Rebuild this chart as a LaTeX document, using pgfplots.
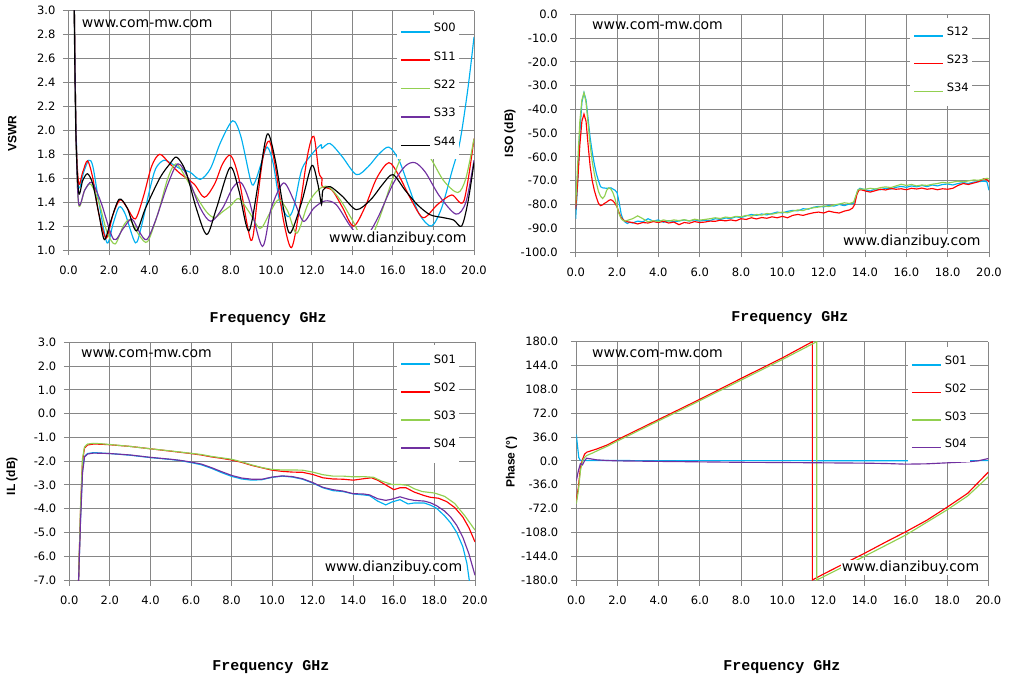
\documentclass[border=0pt]{standalone}
\usepackage{fontspec}
\setmainfont{DejaVu Sans}
\newfontfamily\labfont{Liberation Sans}
\newfontfamily\xfont{Liberation Mono}
\usepackage{pgfplots}
\pgfplotsset{compat=1.18}
\definecolor{cA}{RGB}{0,176,240}
\definecolor{cB}{RGB}{255,0,0}
\definecolor{cC}{RGB}{146,208,80}
\definecolor{cD}{RGB}{112,48,160}
\definecolor{gridc}{RGB}{134,134,134}
\tikzset{wm/.style={font=\fontsize{14}{16}\selectfont, inner sep=1pt}}
\newcommand{\xl}{\xfont\bfseries\fontsize{15}{16}\selectfont Frequency GHz}
\newcommand{\yl}[1]{\labfont\bfseries\fontsize{12}{14}\selectfont #1}
\pgfplotsset{
 mystyle/.style={
  scale only axis,
  xmin=0,xmax=20,
  xtick={0,2,...,20},
  xticklabels={0.0,2.0,4.0,6.0,8.0,10.0,12.0,14.0,16.0,18.0,20.0},
  grid=major,
  major grid style={draw=gridc, line width=0.9pt},
  axis line style={draw=gridc, line width=0.9pt},
  axis x line*=bottom, axis y line*=left,
  tick align=outside,
  tick style={draw=gridc, line width=0.9pt},
  major tick length=5.5pt,
  tick label style={font=\fontsize{11.5}{13}\selectfont, text=black},
  yticklabel style={xshift=-4pt},
  xticklabel style={yshift=-7pt},
  legend style={draw=none, fill=white, anchor=north west, inner xsep=3pt, inner ysep=4pt,
    row sep=12pt, column sep=3pt, font=\fontsize{11.5}{13}\selectfont,
    nodes={inner sep=0pt, text height=7.5pt, text depth=4pt, anchor=base west}},
  legend cell align=left,
  legend image code/.code={\draw[##1, line width=1.6pt] (0pt,0pt) -- (29pt,0pt);},
  every axis plot/.append style={line width=1.15pt, mark=none},
  xlabel={\xl},
 },
}
\begin{document}
\begin{tikzpicture}
\path[use as bounding box] (0,0) rectangle (1009pt,-684pt);
% ---------------- VSWR -----------------
\begin{axis}[mystyle, at={(68.5pt,-10.7pt)}, anchor=north west, width=405.5pt, height=239.3pt,
  ymin=1, ymax=3, ytick={1,1.2,...,3.01},
  yticklabels={1.0,1.2,1.4,1.6,1.8,2.0,2.2,2.4,2.6,2.8,3.0},
  ylabel={\yl{VSWR}},
  every axis y label/.style={at={(axis description cs:-0.139,0.485)}, anchor=center, rotate=90},
  every axis x label/.style={at={(axis description cs:0.492,-0.288)}, anchor=center},
  legend style={at={(0.81,0.983)}, row sep=16.9pt, inner ysep=9.3pt},
  legend entries={S00,S11,S22,S33,S44}]
\addplot[cA, smooth] coordinates {(0.27,3.3)(0.35,2.2)(0.45,1.6)(0.55,1.52)(0.75,1.65)(1.0,1.75)(1.2,1.7)(1.5,1.4)(1.9,1.06)(2.2,1.22)(2.5,1.36)(2.8,1.3)(3.3,1.06)(3.6,1.2)(4.0,1.5)(4.3,1.68)(4.7,1.75)(5.1,1.72)(5.5,1.68)(6.0,1.65)(6.5,1.59)(7.0,1.68)(7.5,1.9)(8.1,2.08)(8.5,1.95)(9.0,1.57)(9.2,1.57)(9.5,1.72)(9.8,1.86)(10.1,1.72)(10.4,1.42)(10.8,1.28)(11.1,1.35)(11.5,1.67)(12.0,1.8)(12.45,1.88)(12.5,1.85)(12.9,1.89)(13.5,1.78)(14.2,1.63)(14.8,1.7)(15.3,1.8)(15.8,1.86)(16.3,1.75)(16.8,1.52)(17.3,1.3)(17.9,1.2)(18.4,1.35)(18.9,1.65)(19.3,1.9)(19.7,2.35)(20,2.78)};
\addplot[cB, smooth] coordinates {(0.27,3.3)(0.37,2.0)(0.5,1.56)(0.7,1.65)(0.94,1.745)(1.2,1.6)(1.5,1.3)(1.86,1.1)(2.2,1.3)(2.55,1.42)(2.9,1.35)(3.3,1.26)(3.7,1.45)(4.1,1.7)(4.5,1.8)(5.0,1.72)(5.5,1.64)(6.2,1.55)(6.7,1.44)(7.2,1.55)(7.6,1.72)(8.0,1.79)(8.4,1.6)(9.0,1.08)(9.3,1.4)(9.6,1.78)(9.9,1.91)(10.2,1.7)(10.6,1.25)(11.0,1.02)(11.4,1.35)(11.8,1.8)(12.1,1.95)(12.35,1.65)(12.5,1.6)(12.52,1.53)(13.0,1.5)(13.5,1.36)(14.05,1.2)(14.6,1.35)(15.2,1.6)(15.8,1.73)(16.3,1.62)(16.9,1.42)(17.5,1.27)(18.2,1.38)(18.9,1.46)(19.5,1.41)(20.0,1.93)};
\addplot[cC, smooth] coordinates {(0.27,3.3)(0.37,2.0)(0.5,1.38)(0.8,1.5)(1.1,1.55)(1.5,1.4)(1.9,1.15)(2.3,1.05)(2.7,1.2)(3.04,1.25)(3.5,1.12)(3.9,1.07)(4.4,1.3)(4.9,1.6)(5.3,1.72)(5.8,1.6)(6.3,1.45)(6.8,1.32)(7.2,1.27)(7.6,1.32)(8.0,1.37)(8.4,1.43)(8.9,1.32)(9.45,1.18)(9.9,1.3)(10.35,1.42)(10.8,1.33)(11.26,1.14)(11.8,1.38)(12.3,1.5)(12.8,1.53)(13.4,1.42)(14.0,1.25)(14.7,1.05)(15.3,1.25)(15.9,1.55)(16.5,1.8)(17.2,1.84)(17.8,1.78)(18.5,1.58)(19.2,1.48)(19.6,1.6)(20,1.93)};
\addplot[cD, smooth] coordinates {(0.27,3.3)(0.37,2.0)(0.5,1.39)(0.8,1.5)(1.15,1.565)(1.6,1.4)(2.22,1.09)(2.7,1.18)(3.12,1.26)(3.5,1.15)(3.86,1.087)(4.3,1.25)(4.9,1.55)(5.4,1.72)(5.9,1.6)(6.5,1.35)(7.02,1.24)(7.6,1.35)(8.1,1.52)(8.5,1.565)(8.9,1.42)(9.56,1.03)(10.0,1.35)(10.6,1.56)(11.1,1.42)(11.59,1.24)(12.1,1.35)(12.65,1.41)(13.2,1.38)(13.9,1.2)(14.54,1.09)(15.2,1.25)(16.0,1.55)(16.6,1.7)(17.09,1.73)(17.6,1.65)(18.3,1.45)(19.11,1.30)(19.6,1.4)(20,1.75)};
\addplot[black, smooth] coordinates {(0.26,3.3)(0.36,2.0)(0.5,1.48)(0.7,1.58)(0.94,1.637)(1.2,1.55)(1.5,1.3)(1.77,1.087)(2.1,1.25)(2.5,1.425)(2.9,1.35)(3.34,1.16)(3.8,1.35)(4.5,1.6)(5.0,1.72)(5.34,1.776)(5.8,1.65)(6.3,1.35)(6.82,1.13)(7.3,1.35)(7.97,1.69)(8.4,1.5)(8.9,1.16)(9.4,1.6)(9.81,1.97)(10.2,1.75)(10.6,1.35)(10.93,1.14)(11.5,1.4)(12.0,1.706)(12.3,1.55)(12.48,1.38)(12.55,1.5)(12.9,1.53)(13.5,1.45)(14.2,1.337)(14.9,1.42)(15.5,1.55)(16.0,1.63)(16.6,1.5)(17.2,1.38)(17.83,1.295)(18.5,1.27)(19.0,1.25)(19.39,1.2)(19.7,1.4)(20,1.73)};
\node[wm] at (axis description cs:0.194,0.947) {www.com-mw.com};
\node[wm, fill=white] at (axis description cs:0.812,0.049) {www.dianzibuy.com};
\end{axis}
% ---------------- ISO -----------------
\begin{axis}[mystyle, at={(575.7pt,-14.3pt)}, anchor=north west, width=413.3pt, height=237.7pt,
  ymin=-100, ymax=0, ytick={-100,-90,...,0},
  yticklabels={-100.0,-90.0,-80.0,-70.0,-60.0,-50.0,-40.0,-30.0,-20.0,-10.0,0.0},
  yticklabel style={xshift=-5pt},
  ylabel={\yl{ISO (dB)}},
  every axis y label/.style={at={(axis description cs:-0.159,0.5)}, anchor=center, rotate=90},
  every axis x label/.style={at={(axis description cs:0.518,-0.278)}, anchor=center},
  legend style={at={(0.809,0.987)}, row sep=16.4pt, inner ysep=10.7pt},
  legend entries={S12,S23,S34}]
\addplot[cA] coordinates {(0,-86)(0.1,-70)(0.2,-50)(0.3,-37)(0.4,-33)(0.5,-36)(0.6,-44)(0.7,-52)(0.8,-58)(0.9,-63)(1.0,-67)(1.1,-70)(1.2,-72.5)(1.3,-73)(1.5,-73.2)(1.7,-73)(1.8,-73.5)(1.9,-74)(2.0,-75)(2.1,-79)(2.2,-84)(2.3,-86.5)(2.4,-87.5)(2.5,-88)(2.6,-87.5)(2.75,-87.8)(3.0,-87)(3.25,-87.3)(3.5,-86)(3.75,-87)(4.0,-86.5)(4.25,-87.5)(4.5,-86.8)(4.75,-87.2)(5.0,-87)(5.25,-86.5)(5.5,-87)(5.75,-86.5)(6.0,-87)(6.25,-86.6)(6.5,-86.8)(6.75,-86)(7.0,-86.3)(7.25,-85.7)(7.5,-85.9)(7.75,-85.2)(8.0,-85.5)(8.25,-84.8)(8.5,-84.2)(8.75,-84.6)(9.0,-84)(9.25,-84.4)(9.5,-83.8)(9.75,-83.2)(10.0,-83.6)(10.25,-82.9)(10.5,-82.5)(10.75,-82.7)(11.0,-81.8)(11.25,-82)(11.5,-81.2)(11.75,-80.8)(12.0,-81)(12.25,-80.4)(12.5,-80.7)(12.75,-80)(13.0,-80.5)(13.25,-79.8)(13.45,-79.5)(13.55,-77)(13.65,-74)(13.75,-73.2)(14.0,-73.8)(14.25,-74.3)(14.5,-73.5)(14.75,-73.8)(15.0,-73.2)(15.25,-73.5)(15.5,-72.8)(15.75,-72.4)(16.0,-72.8)(16.25,-72.2)(16.5,-72.6)(16.75,-72)(17.0,-72.5)(17.25,-71.8)(17.5,-72.2)(17.75,-71.6)(18.0,-71.4)(18.25,-71.8)(18.5,-71.2)(18.75,-70.8)(19.0,-71.2)(19.25,-70.6)(19.5,-70.4)(19.75,-70.2)(19.9,-70.5)(20.0,-74)};
\addplot[cB] coordinates {(0,-82)(0.1,-70)(0.2,-55)(0.3,-45)(0.4,-42)(0.5,-45)(0.6,-55)(0.7,-64)(0.8,-70)(0.9,-74)(1.0,-77)(1.1,-79.5)(1.2,-80.5)(1.3,-80.2)(1.4,-79.5)(1.5,-79)(1.6,-78.3)(1.7,-78)(1.8,-78.5)(1.9,-79.5)(2.0,-81)(2.1,-83.5)(2.2,-85.5)(2.3,-86.5)(2.4,-87)(2.5,-87.3)(2.75,-87.6)(3.0,-88.2)(3.25,-87.6)(3.5,-87.8)(3.75,-87.2)(4.0,-87.6)(4.25,-87.1)(4.5,-87.8)(4.75,-87.4)(5.0,-88.5)(5.25,-87.6)(5.5,-87.9)(5.75,-87.2)(6.0,-87.6)(6.25,-87.4)(6.5,-87.0)(6.75,-87.1)(7.0,-86.6)(7.25,-86.9)(7.5,-86.5)(7.75,-86.9)(8.0,-86)(8.25,-86.3)(8.5,-85.6)(8.75,-86.1)(9.0,-85.5)(9.25,-85.8)(9.5,-85.2)(9.75,-85.6)(10.0,-85)(10.25,-85.6)(10.5,-84.6)(10.75,-84.2)(11.0,-84.6)(11.25,-84)(11.5,-83.5)(11.75,-83.2)(12.0,-83.6)(12.25,-82.8)(12.5,-83.3)(12.75,-83.6)(13.0,-82.8)(13.25,-82.3)(13.4,-81.5)(13.5,-80)(13.6,-76)(13.7,-74)(13.8,-73.8)(14.0,-74.3)(14.25,-74.8)(14.5,-74.2)(14.75,-73.6)(15.0,-73.9)(15.25,-73.3)(15.5,-73.6)(15.75,-73.4)(16.0,-73.8)(16.25,-73.2)(16.5,-73.5)(16.75,-73.1)(17.0,-73.6)(17.25,-73.3)(17.5,-73.8)(17.75,-73.4)(18.0,-73.6)(18.25,-73.2)(18.5,-72)(18.75,-71.2)(19.0,-71.6)(19.25,-71)(19.5,-70.4)(19.75,-69.2)(19.9,-69.6)(20.0,-70.5)};
\addplot[cC] coordinates {(0,-80)(0.1,-62)(0.2,-45)(0.3,-36)(0.4,-33)(0.5,-37)(0.6,-46)(0.7,-55)(0.8,-62)(0.9,-67)(1.0,-71)(1.1,-74.5)(1.2,-76.5)(1.3,-77.5)(1.4,-76.5)(1.5,-74)(1.6,-73)(1.7,-73.5)(1.8,-75)(1.9,-77.5)(2.0,-81)(2.1,-84)(2.2,-86)(2.3,-86.8)(2.4,-87)(2.5,-86.7)(2.75,-86)(3.0,-84.8)(3.25,-86)(3.5,-87.3)(3.75,-86.8)(4.0,-87.2)(4.25,-86.5)(4.5,-87)(4.75,-86.5)(5.0,-86.8)(5.25,-86.4)(5.5,-86.9)(5.75,-86.2)(6.0,-86.6)(6.25,-86.3)(6.5,-86)(6.75,-85.6)(7.0,-85.9)(7.25,-85.3)(7.5,-85.6)(7.75,-85)(8.0,-85.2)(8.25,-84.6)(8.5,-84.9)(8.75,-84.2)(9.0,-84.5)(9.25,-83.8)(9.5,-84.1)(9.75,-83.6)(10.0,-83.2)(10.25,-83.5)(10.5,-82.8)(10.75,-82.3)(11.0,-82.6)(11.25,-81.8)(11.5,-81.4)(11.75,-81.1)(12.0,-80.6)(12.25,-80.9)(12.5,-80.2)(12.75,-79.8)(13.0,-79.3)(13.25,-79.6)(13.45,-79)(13.55,-76.5)(13.65,-74)(13.75,-73.5)(14.0,-73.6)(14.25,-73.2)(14.5,-73.5)(14.75,-72.9)(15.0,-72.6)(15.25,-72.9)(15.5,-72.2)(15.75,-71.5)(16.0,-72)(16.25,-71.6)(16.5,-72.2)(16.75,-71.8)(17.0,-72)(17.25,-71.5)(17.5,-71.2)(17.75,-70.7)(18.0,-71)(18.25,-70.6)(18.5,-70.2)(18.75,-70.5)(19.0,-70.1)(19.25,-69.7)(19.5,-69.8)(19.75,-69.3)(19.9,-69)(20.0,-69.3)};
\node[wm] at (axis description cs:0.198,0.951) {www.com-mw.com};
\node[wm, fill=white] at (axis description cs:0.813,0.043) {www.dianzibuy.com};
\end{axis}
% ---------------- IL -----------------
\begin{axis}[mystyle, at={(69.3pt,-342.3pt)}, anchor=north west, width=405.7pt, height=237.7pt,
  ymin=-7, ymax=3, ytick={-7,-6,...,3},
  yticklabels={-7.0,-6.0,-5.0,-4.0,-3.0,-2.0,-1.0,0.0,1.0,2.0,3.0},
  ylabel={\yl{IL (dB)}},
  every axis y label/.style={at={(axis description cs:-0.141,0.437)}, anchor=center, rotate=90},
  every axis x label/.style={at={(axis description cs:0.497,-0.366)}, anchor=center},
  legend style={at={(0.808,0.989)}, row sep=16.5pt, inner ysep=11.3pt},
  legend entries={S01,S02,S03,S04}]
\addplot[cA] coordinates {(0.45,-7.2)(0.55,-4.5)(0.65,-2.4)(0.75,-1.8)(0.9,-1.68)(1.2,-1.64)(1.6,-1.66)(2.0,-1.68)(3.0,-1.75)(4.0,-1.85)(5.0,-1.93)(5.5,-1.98)(6.0,-2.06)(6.5,-2.15)(7.0,-2.3)(7.5,-2.48)(8.0,-2.64)(8.5,-2.75)(9.0,-2.8)(9.5,-2.78)(10.0,-2.68)(10.5,-2.63)(11.0,-2.67)(11.5,-2.76)(12.0,-2.92)(12.5,-3.12)(13.0,-3.24)(13.5,-3.28)(14.0,-3.38)(14.5,-3.42)(14.8,-3.45)(15.2,-3.68)(15.6,-3.84)(15.9,-3.72)(16.3,-3.62)(16.7,-3.8)(17.0,-3.76)(17.5,-3.76)(17.8,-3.85)(18.1,-3.98)(18.5,-4.3)(18.8,-4.6)(19.1,-5.0)(19.4,-5.6)(19.6,-6.3)(19.75,-7.2)};
\addplot[cB] coordinates {(0.45,-7.2)(0.55,-4.2)(0.65,-2.0)(0.75,-1.45)(0.9,-1.32)(1.2,-1.28)(1.6,-1.29)(2.0,-1.31)(3.0,-1.38)(4.0,-1.48)(5.0,-1.58)(6.0,-1.68)(6.5,-1.74)(7.0,-1.82)(7.5,-1.88)(8.0,-1.95)(8.5,-2.05)(9.0,-2.18)(9.5,-2.28)(10.0,-2.38)(10.5,-2.43)(11.0,-2.46)(11.5,-2.47)(12.0,-2.56)(12.5,-2.7)(13.0,-2.75)(13.5,-2.76)(14.0,-2.8)(14.5,-2.74)(14.9,-2.7)(15.2,-2.8)(15.6,-3.0)(16.0,-3.2)(16.3,-3.12)(16.6,-3.12)(17.0,-3.3)(17.5,-3.45)(17.8,-3.52)(18.2,-3.56)(18.6,-3.7)(19.0,-3.95)(19.4,-4.35)(19.7,-4.8)(20.0,-5.4)};
\addplot[cC] coordinates {(0.45,-7.2)(0.55,-4.0)(0.65,-1.9)(0.75,-1.4)(0.9,-1.28)(1.2,-1.25)(1.6,-1.27)(2.0,-1.3)(3.0,-1.38)(4.0,-1.48)(5.0,-1.57)(6.0,-1.67)(6.5,-1.72)(7.0,-1.8)(7.5,-1.86)(8.0,-1.92)(8.5,-2.03)(9.0,-2.16)(9.5,-2.27)(10.0,-2.35)(10.5,-2.37)(11.0,-2.37)(11.5,-2.38)(12.0,-2.46)(12.5,-2.57)(13.0,-2.63)(13.5,-2.63)(14.0,-2.66)(14.5,-2.65)(15.0,-2.68)(15.4,-2.84)(15.9,-2.98)(16.3,-2.98)(16.7,-3.02)(17.0,-3.16)(17.4,-3.28)(18.0,-3.34)(18.5,-3.48)(19.0,-3.78)(19.5,-4.3)(20.0,-4.9)};
\addplot[cD] coordinates {(0.45,-7.2)(0.55,-4.6)(0.65,-2.5)(0.75,-1.82)(0.9,-1.7)(1.2,-1.66)(1.6,-1.67)(2.0,-1.68)(3.0,-1.74)(4.0,-1.84)(5.0,-1.92)(5.5,-1.97)(6.0,-2.04)(6.5,-2.12)(7.0,-2.27)(7.5,-2.44)(8.0,-2.6)(8.5,-2.71)(9.0,-2.76)(9.5,-2.76)(10.0,-2.67)(10.5,-2.62)(11.0,-2.65)(11.5,-2.74)(12.0,-2.9)(12.5,-3.1)(13.0,-3.2)(13.5,-3.26)(14.0,-3.37)(14.5,-3.38)(14.8,-3.42)(15.2,-3.58)(15.6,-3.65)(15.9,-3.6)(16.3,-3.5)(16.7,-3.6)(17.0,-3.65)(17.5,-3.68)(17.8,-3.75)(18.1,-3.87)(18.5,-4.1)(18.8,-4.35)(19.1,-4.7)(19.4,-5.2)(19.7,-5.9)(20.0,-6.8)};
\node[wm] at (axis description cs:0.190,0.951) {www.com-mw.com};
\node[wm, fill=white] at (axis description cs:0.799,0.052) {www.dianzibuy.com};
\end{axis}
% ---------------- Phase -----------------
\begin{axis}[mystyle, at={(576.3pt,-341.7pt)}, anchor=north west, width=412pt, height=238.3pt,
  ymin=-180, ymax=180, ytick={-180,-144,...,180},
  yticklabels={-180.0,-144.0,-108.0,-72.0,-36.0,0.0,36.0,72.0,108.0,144.0,180.0},
  yticklabel style={xshift=-5pt},
  ylabel={\yl{Phase (°)}},
  every axis y label/.style={at={(axis description cs:-0.157,0.495)}, anchor=center, rotate=90},
  every axis x label/.style={at={(axis description cs:0.499,-0.365)}, anchor=center},
  legend style={at={(0.805,0.980)}, row sep=16.1pt, inner ysep=10.7pt},
  legend entries={S01,S02,S03,S04}]
\addplot[cA] coordinates {(0,40)(0.05,25)(0.12,5)(0.2,0.5)(0.5,0.5)(1,0.5)(5,0.3)(10,0.3)(15,0.2)(20,0.3)};
\addplot[cB] coordinates {(0,-60)(0.1,-40)(0.2,-10)(0.3,2)(0.4,10)(0.5,13)(0.8,16)(1.0,18)(1.5,24)(2.0,32)(4.0,62.5)(6.0,93)(8.0,124.5)(10.0,155.5)(11.46,180)(11.46,-180)(12.0,-171)(14.0,-139.5)(15.0,-123)(16.0,-107)(17.0,-90)(18.0,-70)(19.0,-49)(20.0,-17)};
\addplot[cC] coordinates {(0,-65)(0.1,-45)(0.2,-15)(0.3,0)(0.4,5)(0.5,8)(0.8,12)(1.0,15)(1.5,22)(2.0,30)(4.0,60.5)(6.0,91)(8.0,122)(10.0,153)(11.67,180)(11.67,-180)(12.0,-175)(14.0,-144)(16.0,-112)(18.0,-74)(19.0,-53)(20.0,-24)};
\addplot[cD] coordinates {(0,-30)(0.1,-15)(0.2,-4)(0.3,-6)(0.4,0)(0.5,4)(0.7,3)(1.0,1.5)(1.5,0.5)(2,0)(4,-0.8)(6,-1.5)(8,-2.2)(10,-2.5)(12,-3)(14,-3.5)(15,-4)(16,-5)(17,-4.5)(18,-3)(19,-1.5)(19.5,0)(20,3.5)};
\node[wm] at (axis description cs:0.197,0.948) {www.com-mw.com};
\node[wm, fill=white] at (axis description cs:0.811,0.052) {www.dianzibuy.com};
\end{axis}
\end{tikzpicture}
\end{document}
